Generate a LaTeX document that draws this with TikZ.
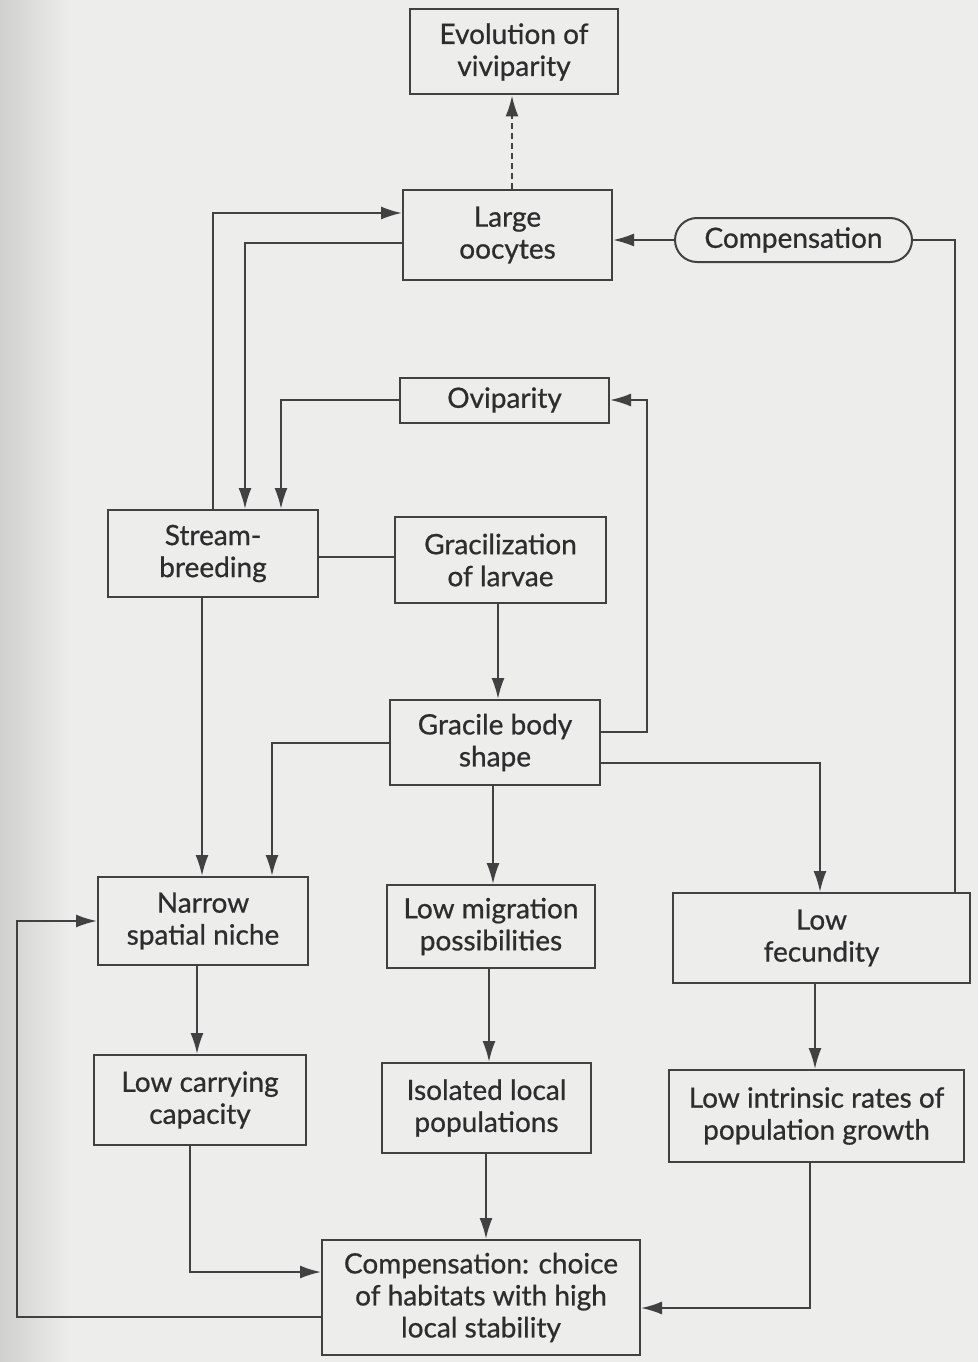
\documentclass[tikz,border=0pt]{standalone}
\usepackage{fontspec}
\setmainfont[FakeBold=0.7]{Lato}
\usetikzlibrary{arrows.meta}
\definecolor{bg}{RGB}{237,237,235}
\definecolor{edge}{RGB}{208,208,206}
\definecolor{ink}{RGB}{65,65,65}
\definecolor{txt}{RGB}{45,45,45}
\begin{document}
\begin{tikzpicture}[x=1pt,y=-1pt,
  box/.style={draw=ink,line width=2pt,inner sep=0pt,align=center,text=txt,
    font=\fontsize{28}{32}\selectfont},
  sz/.style n args={2}{minimum width=#1pt,minimum height=#2pt},
  arr/.style={draw=ink,line width=2pt,-{Latex[length=21pt,width=13pt]}},
  ln/.style={draw=ink,line width=2pt}]
\fill[bg] (0,0) rectangle (978,1362);
\shade[left color=edge,right color=bg] (0,0) rectangle (70,1362);
\useasboundingbox (0,0) rectangle (978,1362);

% nodes
\node[box,sz={208}{85}] (evo) at (514,52) {Evolution of\\viviparity};
\node[box,sz={209}{90}] (large) at (507.5,235) {Large\\oocytes};
\node[box,sz={237}{44},rounded corners=22pt] (comp) at (793.5,240) {Compensation};
\node[box,sz={209}{45}] (ovi) at (504.5,400) {Oviparity};
\node[box,sz={210}{87}] (stream) at (213,553.5) {Stream-\\breeding};
\node[box,sz={211}{86}] (grac) at (500.5,560) {Gracilization\\of larvae};
\node[box,sz={210}{85}] (body) at (495,742.5) {Gracile body\\shape};
\node[box,sz={210}{88}] (narrow) at (203,921) {Narrow\\spatial niche};
\node[box,sz={208}{83}] (migr) at (491,926.5) {Low migration\\possibilities};
\node[box,sz={297}{90}] (fec) at (821.5,938) {Low\\fecundity};
\node[box,sz={212}{90}] (carry) at (200,1100) {Low carrying\\capacity};
\node[box,sz={209}{90}] (isol) at (486.5,1108) {Isolated local\\populations};
\node[box,sz={295}{92}] (intr) at (816.5,1116) {Low intrinsic rates of\\population growth};
\node[box,sz={318}{115}] (choice) at (481,1297.5) {Compensation: choice\\of habitats with high\\local stability};

% bend coordinates
\coordinate (c1) at (213,213);
\coordinate (c2) at (245,243);
\coordinate (c3) at (281,400);
\coordinate (c4) at (300,557);
\coordinate (c5) at (498,0);
\coordinate (c6) at (647,732);
\coordinate (c7) at (955,0);
\coordinate (c8) at (202,0);
\coordinate (c9) at (272,743);
\coordinate (c10) at (820,763);
\coordinate (c11) at (197,0);
\coordinate (c12) at (489,0);
\coordinate (c13) at (815,0);
\coordinate (c14) at (190,1272);
\coordinate (c15) at (486,0);
\coordinate (c16) at (810,1308);
\coordinate (c17) at (17,1317);
\coordinate (c18) at (512,0);
\coordinate (c19) at (493,0);

% connectors
\draw[arr,dash pattern=on 6pt off 4pt] (large.north -| c18) -- (evo.south -| c18);
\draw[arr] (stream.north -| c1) -- (c1) -- (large.west |- c1);
\draw[arr] (large.west |- c2) -| (stream.north -| c2);
\draw[arr] (ovi.west |- c3) -| (stream.north -| c3);
\draw[ln] (stream.east |- c4) -- (grac.west |- c4);
\draw[arr] (grac.south -| c5) -- (body.north -| c5);
\draw[arr] (body.east |- c6) -- (c6) |- (ovi.east);
\draw[arr] (comp.west) -- (large.east |- comp.west);
\draw[ln] (comp.east) -| (fec.north -| c7);
\draw[arr] (stream.south -| c8) -- (narrow.north -| c8);
\draw[arr] (body.west |- c9) -| (narrow.north -| c9);
\draw[arr] (body.south -| c19) -- (migr.north -| c19);
\draw[arr] (body.east |- c10) -| (fec.north -| c10);
\draw[arr] (narrow.south -| c11) -- (carry.north -| c11);
\draw[arr] (migr.south -| c12) -- (isol.north -| c12);
\draw[arr] (fec.south -| c13) -- (intr.north -| c13);
\draw[arr] (carry.south -| c14) |- (choice.west |- c14);
\draw[arr] (isol.south -| c15) -- (choice.north -| c15);
\draw[arr] (intr.south -| c16) |- (choice.east |- c16);
\draw[arr] (choice.west |- c17) -- (c17) |- (narrow.west);
\end{tikzpicture}
\end{document}
